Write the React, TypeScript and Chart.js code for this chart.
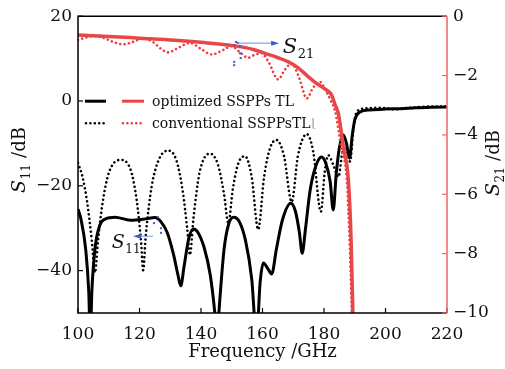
import React, { useEffect, useRef } from "react";
import { Chart, registerables } from "chart.js";
Chart.register(...registerables);

// ---------- data ----------
const xTicks = [100, 120, 140, 160, 180, 200, 220];
const s11Ticks = [-40, -20, 0, 20];
const s21Ticks = [-10, -8, -6, -4, -2, 0];

const optS11Freq = [100, 101, 102.5, 103.5, 104, 104.5, 105.5, 107, 109, 112, 117, 122, 125, 127, 129, 131, 132.5, 133.4, 134.5, 136, 137.5, 139, 141, 143, 144.5, 145.2, 146, 147.5, 149, 150.6, 152.5, 154.5, 156.5, 158.1, 159.2, 160.3, 161.7, 163, 164.5, 166.5, 169.2, 170.7, 172, 172.9, 174, 175.5, 177.5, 179.2, 180.5, 182, 183, 184, 185, 186.3, 187.3, 188.3, 189.2, 190, 191.7, 195, 200, 205, 210, 215, 220];
const optS11 = [-25.5, -28, -35, -45, -56, -45, -35, -29.5, -27.8, -27.4, -28.1, -27.8, -27.5, -28.5, -31, -36, -41, -43.6, -39, -32.5, -30.2, -31, -34.5, -41, -50, -56, -48, -35, -29, -27.4, -28.5, -33, -42, -56, -43, -38.2, -39.5, -40.8, -35, -28, -24.1, -26, -31, -35.9, -30, -21, -15, -13.2, -14.5, -19, -25.7, -17, -11, -8, -10, -13.5, -8, -4.5, -2.6, -2.1, -1.9, -1.8, -1.6, -1.5, -1.4];

const convS11Freq = [100, 101.5, 103, 104.5, 105.5, 106.5, 108, 110, 113.7, 117, 119, 120.5, 121.2, 122, 124, 126.5, 129.4, 132, 134, 135.5, 136.4, 137.5, 139.5, 142.9, 145.5, 147.5, 148.9, 150.3, 152, 154.3, 156.5, 158.6, 160.5, 162.5, 164.6, 167, 169.5, 171.5, 174.4, 176.5, 179, 180.2, 181.4, 183, 184.7, 186, 187, 188.5, 189.5, 190.6, 193, 197, 200, 203, 206, 210, 215, 220];
const convS11 = [-14.6, -18, -24, -33, -40.5, -33, -24, -17, -13.9, -16, -23, -33, -39.9, -32, -20, -13.5, -11.7, -14, -21, -30, -36.3, -28, -17, -12.4, -15, -22, -28.8, -21, -15, -13, -18, -30.3, -18, -11, -9.2, -13, -23.8, -13, -7.8, -12, -26.1, -17, -12.8, -15, -17.9, -12, -10.8, -14.3, -7, -2.6, -1.8, -1.6, -1.7, -2.0, -1.7, -1.5, -1.3, -1.3];

const optS21Freq = [100, 110, 120, 131.5, 140, 151, 157, 161, 165, 168.4, 171.5, 174.9, 177, 179.3, 181, 182.5, 183.5, 184.7, 186.3, 187.9, 188.8, 189.6];
const optS21 = [-0.63, -0.68, -0.74, -0.81, -0.88, -1.0, -1.12, -1.26, -1.4, -1.54, -1.73, -2.04, -2.22, -2.38, -2.5, -2.66, -2.95, -3.3, -4.4, -5.5, -7.5, -11];

const convS21Freq = [100, 102.5, 105.5, 108, 111.5, 114.7, 118, 121.2, 124.5, 127, 129.4, 132, 136.4, 140, 143.5, 147, 150, 152.5, 155.4, 157.5, 159.7, 162, 165.1, 167.3, 169.5, 172, 174.4, 176.5, 178.7, 180.5, 182.2, 183.6, 185.7, 187.4, 188.4, 189.3];
const convS21 = [-0.8, -0.72, -0.67, -0.72, -0.87, -0.95, -0.86, -0.75, -0.88, -1.1, -1.22, -1.1, -0.9, -1.1, -1.29, -1.15, -1.01, -1.2, -1.4, -1.3, -1.25, -1.55, -2.13, -1.8, -1.59, -2.1, -2.77, -2.4, -2.21, -2.5, -2.85, -3.2, -4.5, -5.5, -7.8, -11];

const legendLabels = ["optimized SSPPs TL", "conventional SSPPsTL"];

// annotation positions (data units)
const s21MarkFreq = [150.8, 151.4, 152, 152.7, 152.7, 152.9, 150.8, 150.8];
const s21MarkVal = [-0.98, -0.87, -0.9, -1.01, -1.25, -1.41, -1.54, -1.65];
const s21ArrowFreq = [152, 165.4];
const s21ArrowVal = -0.91;
const s21LabelFreq = 166.6;
const s21LabelVal = -1.25;

const s11MarkFreq = [126, 124.7, 127, 127];
const s11MarkVal = [-27.4, -28.8, -30, -31.1];
const s11ArrowFreq = [124.4, 117.9];
const s11ArrowVal = -31.9;
const s11LabelFreq = 111;
const s11LabelVal = -34.7;

const SERIF = "'DejaVu Serif', serif";
const RED = "#e8474a";
const RED_DOT = "#f23a3a";
const RED_AXIS = "#f06464";
const BLUE = "#3a5bd0";
const BLUE_LIGHT = "#8ea6e6";

const pts = (xs: number[], ys: number[]) => xs.map((x, i) => ({ x, y: ys[i] }));

function drawSub(ctx: CanvasRenderingContext2D, x: number, y: number, main: string, sub: string, size: number, subSize: number, subDrop: number) {
  ctx.font = `italic ${size}px ${SERIF}`;
  ctx.textAlign = "left";
  ctx.textBaseline = "alphabetic";
  ctx.fillText(main, x, y);
  const w = ctx.measureText(main).width;
  ctx.font = `${subSize}px ${SERIF}`;
  ctx.fillText(sub, x + w + 0.5, y + subDrop);
  return w + 0.5 + ctx.measureText(sub).width;
}

const decor = {
  id: "decor",
  afterDatasetsDraw(chart: any) {
    const { ctx, chartArea, scales } = chart;
    const { left, right, top, bottom } = chartArea;
    const sx = scales.x, sy = scales.y, sy1 = scales.y1;
    ctx.save();
    // frame
    ctx.lineCap = "butt";
    ctx.strokeStyle = "#000";
    ctx.lineWidth = 1.5;
    ctx.beginPath();
    ctx.moveTo(right, top);
    ctx.lineTo(left, top);
    ctx.lineTo(left, bottom);
    ctx.lineTo(right, bottom);
    ctx.stroke();
    ctx.lineWidth = 1.2;
    xTicks.forEach((v) => {
      const px = sx.getPixelForValue(v);
      ctx.beginPath(); ctx.moveTo(px, bottom); ctx.lineTo(px, bottom - 5); ctx.stroke();
    });
    s11Ticks.forEach((v) => {
      const py = sy.getPixelForValue(v);
      ctx.beginPath(); ctx.moveTo(left, py); ctx.lineTo(left + 5, py); ctx.stroke();
    });
    ctx.strokeStyle = RED_AXIS;
    ctx.lineWidth = 1.5;
    ctx.beginPath(); ctx.moveTo(right, top); ctx.lineTo(right, bottom); ctx.stroke();
    ctx.lineWidth = 1.2;
    s21Ticks.forEach((v) => {
      const py = sy1.getPixelForValue(v);
      ctx.beginPath(); ctx.moveTo(right, py); ctx.lineTo(right - 5, py); ctx.stroke();
    });

    // legend
    const r1 = top + 85, r2 = top + 107;
    const lx = left + 7;
    ctx.lineWidth = 3;
    ctx.strokeStyle = "#000";
    ctx.beginPath(); ctx.moveTo(lx, r1); ctx.lineTo(lx + 21, r1); ctx.stroke();
    ctx.strokeStyle = RED;
    ctx.beginPath(); ctx.moveTo(lx + 37, r1); ctx.lineTo(lx + 59, r1); ctx.stroke();
    ctx.lineCap = "round";
    ctx.lineWidth = 2.6;
    ctx.setLineDash([0.001, 4.4]);
    ctx.strokeStyle = "#000";
    ctx.beginPath(); ctx.moveTo(lx + 1, r2); ctx.lineTo(lx + 20, r2); ctx.stroke();
    ctx.strokeStyle = RED_DOT;
    ctx.beginPath(); ctx.moveTo(lx + 38, r2); ctx.lineTo(lx + 58, r2); ctx.stroke();
    ctx.setLineDash([]);
    ctx.lineCap = "butt";
    ctx.fillStyle = "#111";
    ctx.font = `14px ${SERIF}`;
    ctx.textAlign = "left";
    ctx.textBaseline = "alphabetic";
    ctx.fillText(legendLabels[0], lx + 67, r1 + 5);
    ctx.fillText(legendLabels[1], lx + 67, r2 + 5);
    const w2 = ctx.measureText(legendLabels[1]).width;
    ctx.fillStyle = "#999";
    ctx.font = `12px ${SERIF}`;
    ctx.fillText("\u230A", lx + 67 + w2 + 1, r2 + 4);

    // annotations: S21
    ctx.fillStyle = BLUE;
    s21MarkFreq.forEach((f, i) => {
      const px = sx.getPixelForValue(f), py = sy1.getPixelForValue(s21MarkVal[i]);
      ctx.fillRect(px - 1, py - 1, 2, 2);
    });
    const ay = sy1.getPixelForValue(s21ArrowVal);
    const ax0 = sx.getPixelForValue(s21ArrowFreq[0]), ax1 = sx.getPixelForValue(s21ArrowFreq[1]);
    ctx.strokeStyle = BLUE_LIGHT;
    ctx.lineWidth = 1.2;
    ctx.beginPath(); ctx.moveTo(ax0, ay); ctx.lineTo(ax1 - 6, ay); ctx.stroke();
    ctx.fillStyle = BLUE;
    ctx.beginPath(); ctx.moveTo(ax1, ay); ctx.lineTo(ax1 - 8, ay - 2.5); ctx.lineTo(ax1 - 8, ay + 2.5); ctx.closePath(); ctx.fill();
    ctx.fillStyle = "#111";
    drawSub(ctx, sx.getPixelForValue(s21LabelFreq), sy1.getPixelForValue(s21LabelVal), "S", "21", 21, 13, 5);

    // annotations: S11
    ctx.fillStyle = BLUE;
    s11MarkFreq.forEach((f, i) => {
      const px = sx.getPixelForValue(f), py = sy.getPixelForValue(s11MarkVal[i]);
      ctx.fillRect(px - 1, py - 1, 2, 2);
    });
    const by = sy.getPixelForValue(s11ArrowVal);
    const bx0 = sx.getPixelForValue(s11ArrowFreq[0]), bx1 = sx.getPixelForValue(s11ArrowFreq[1]);
    ctx.strokeStyle = BLUE_LIGHT;
    ctx.beginPath(); ctx.moveTo(bx0, by); ctx.lineTo(bx1 + 6, by); ctx.stroke();
    ctx.fillStyle = BLUE;
    ctx.beginPath(); ctx.moveTo(bx1, by); ctx.lineTo(bx1 + 8, by - 2.5); ctx.lineTo(bx1 + 8, by + 2.5); ctx.closePath(); ctx.fill();
    ctx.fillStyle = "#111";
    drawSub(ctx, sx.getPixelForValue(s11LabelFreq), sy.getPixelForValue(s11LabelVal), "S", "11", 19, 12, 5);

    // axis titles
    ctx.fillStyle = "#111";
    ctx.font = `18px ${SERIF}`;
    ctx.textAlign = "center";
    ctx.textBaseline = "alphabetic";
    ctx.fillText("Frequency /GHz", (left + right) / 2, bottom + 44);

    const vTitle = (bx: number, cy: number, sub: string) => {
      ctx.save();
      ctx.font = `italic 19px ${SERIF}`;
      const wS = ctx.measureText("S").width;
      ctx.font = `12px ${SERIF}`;
      const wSub = ctx.measureText(sub).width;
      ctx.font = `18px ${SERIF}`;
      const wRest = ctx.measureText(" /dB").width;
      const total = wS + wSub + 1 + wRest;
      ctx.translate(bx, cy);
      ctx.rotate(-Math.PI / 2);
      let x = -total / 2;
      ctx.textAlign = "left";
      ctx.font = `italic 19px ${SERIF}`;
      ctx.fillText("S", x, 0);
      x += wS + 0.5;
      ctx.font = `12px ${SERIF}`;
      ctx.fillText(sub, x, 5);
      x += wSub + 0.5;
      ctx.font = `18px ${SERIF}`;
      ctx.fillText(" /dB", x, 0);
      ctx.restore();
    };
    vTitle(25, 160, "11");
    vTitle(499, 163, "21");
    ctx.restore();
  },
};

export default function App() {
  const ref = useRef<HTMLCanvasElement | null>(null);
  useEffect(() => {
    document.body.style.margin = "0";
    const canvas = ref.current!;
    const dotted = {
      borderWidth: 2.6,
      borderDash: [0.001, 4.4],
      borderCapStyle: "round" as const,
    };
    const chart = new Chart(canvas, {
      type: "line",
      data: {
        datasets: [
          { label: "optimized S21", data: pts(optS21Freq, optS21), yAxisID: "y1", borderColor: RED, borderWidth: 3.5, order: 0 },
          { label: "conventional S21", data: pts(convS21Freq, convS21), yAxisID: "y1", borderColor: RED_DOT, ...dotted, order: 1 },
          { label: "optimized S11", data: pts(optS11Freq, optS11), yAxisID: "y", borderColor: "#000", borderWidth: 3, order: 2 },
          { label: "conventional S11", data: pts(convS11Freq, convS11), yAxisID: "y", borderColor: "#000", ...dotted, order: 3 },
        ].map((d: any) => ({ ...d, pointRadius: 0, fill: false, cubicInterpolationMode: "monotone", clip: 0 })),
      },
      options: {
        responsive: false,
        animation: false,
        devicePixelRatio: 1,
        layout: { padding: { top: 16, left: 0, right: 0, bottom: 0 } },
        plugins: { legend: { display: false }, tooltip: { enabled: false } },
        scales: {
          x: {
            type: "linear",
            min: 100,
            max: 220,
            grid: { display: false, drawTicks: false },
            border: { display: false },
            afterBuildTicks: (s: any) => { s.ticks = xTicks.map((v) => ({ value: v })); },
            afterFit: (s: any) => { s.height = 56; },
            ticks: { color: "#111", padding: 11, font: { family: SERIF, size: 17 }, maxRotation: 0, autoSkip: false, callback: (v: any) => String(v) },
          },
          y: {
            type: "linear",
            position: "left",
            min: -50,
            max: 20,
            grid: { display: false, drawTicks: false },
            border: { display: false },
            afterBuildTicks: (s: any) => { s.ticks = s11Ticks.map((v) => ({ value: v })); },
            afterFit: (s: any) => { s.width = 78; },
            ticks: { color: "#111", padding: 6, font: { family: SERIF, size: 17 }, callback: (v: any) => String(v).replace("-", "\u2212") },
          },
          y1: {
            type: "linear",
            position: "right",
            min: -10,
            max: 0,
            grid: { display: false, drawTicks: false },
            border: { display: false },
            afterBuildTicks: (s: any) => { s.ticks = s21Ticks.map((v) => ({ value: v })); },
            afterFit: (s: any) => { s.width = 58; },
            ticks: { color: "#111", padding: 6, font: { family: SERIF, size: 17 }, callback: (v: any) => String(v).replace("-", "\u2212") },
          },
        },
      },
      plugins: [decor],
    } as any);
    return () => chart.destroy();
  }, []);
  return (
    <div style={{ width: 505, height: 369 }}>
      <canvas ref={ref} width={505} height={369} style={{ display: "block" }} />
    </div>
  );
}
